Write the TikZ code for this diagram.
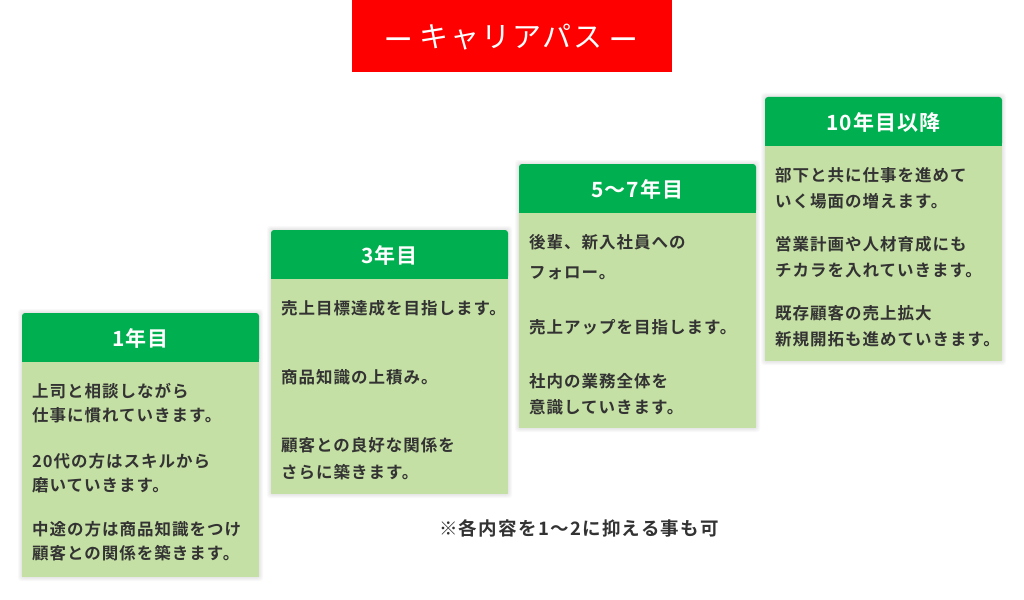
\documentclass[tikz,border=0pt]{standalone}
\usepackage{fontspec}
\setmainfont{Noto Sans CJK JP}[BoldFont={Noto Sans CJK JP Bold}]
\definecolor{hdrgreen}{RGB}{0,175,80}
\definecolor{bodygreen}{RGB}{197,224,164}
\definecolor{txtgray}{RGB}{51,51,51}
\definecolor{titlered}{RGB}{255,0,0}
\tikzset{
  hdrbox/.style={fill=hdrgreen, rounded corners=3pt},
  hdrtext/.style={text=white, font=\fontsize{21}{24}\selectfont\bfseries\addfontfeature{LetterSpace=5}, inner sep=0pt},
  bodybox/.style={fill=bodygreen, draw=none, inner sep=0pt},
  line/.style={text=txtgray, font=\fontsize{16.5}{20}\selectfont\bfseries\addfontfeature{LetterSpace=6}, inner sep=0pt, anchor=base west},
  shadowbox/.style={fill=black, fill opacity=0.025, draw=none}
}
\newcommand{\careershadow}[4]{%
  \foreach \d in {1,2,3,4}{\fill[shadowbox, rounded corners=3pt] (#1-\d,#2-\d) rectangle (#3+\d,#4+\d);}%
}
\begin{document}
\begin{tikzpicture}[x=1pt,y=-1pt]
\useasboundingbox (0,0) rectangle (1024,599);
\fill[white] (0,0) rectangle (1024,599);
% title
\fill[titlered] (352,0) rectangle (672,72);
\node[text=white, font=\fontsize{29}{30}\selectfont\addfontfeature{LetterSpace=6}, inner sep=0pt] (title) at (511,37) {{\bfseries —} キャリアパス {\bfseries —}};

% ---- box 1
\careershadow{22}{313}{259}{577}
\fill[hdrbox] (22,313) rectangle (259,362);
\fill[hdrgreen] (22,350) rectangle (259,362);
\node[hdrtext] (h1) at (140.5,338) {1年目};
\node[bodybox, anchor=north west, minimum width=237pt, minimum height=215pt] (b1) at (22,362) {};
\node[line] (b1l1) at (32,397) {上司と相談しながら};
\node[line] (b1l2) at (32,421) {仕事に慣れていきます。};
\node[line] (b1l3) at (32,467) {20代の方はスキルから};
\node[line] (b1l4) at (32,491) {磨いていきます。};
\node[line] (b1l5) at (32,535) {中途の方は商品知識をつけ};
\node[line] (b1l6) at (32,559) {顧客との関係を築きます。};

% ---- box 2
\careershadow{271}{230}{508}{494}
\fill[hdrbox] (271,230) rectangle (508,279);
\fill[hdrgreen] (271,267) rectangle (508,279);
\node[hdrtext] (h2) at (389.5,255) {3年目};
\node[bodybox, anchor=north west, minimum width=237pt, minimum height=215pt] (b2) at (271,279) {};
\node[line] (b2l1) at (281,314) {売上目標達成を目指します。};
\node[line] (b2l2) at (281,383) {商品知識の上積み。};
\node[line] (b2l3) at (281,451) {顧客との良好な関係を};
\node[line] (b2l4) at (281,478) {さらに築きます。};

% ---- box 3
\careershadow{519}{164}{756}{428}
\fill[hdrbox] (519,164) rectangle (756,213);
\fill[hdrgreen] (519,201) rectangle (756,213);
\node[hdrtext] (h3) at (637.5,189) {5〜7年目};
\node[bodybox, anchor=north west, minimum width=237pt, minimum height=215pt] (b3) at (519,213) {};
\node[line] (b3l1) at (529,248) {後輩、新入社員への};
\node[line] (b3l2) at (529,278) {フォロー。};
\node[line] (b3l3) at (529,333) {売上アップを目指します。};
\node[line] (b3l4) at (529,387) {社内の業務全体を};
\node[line] (b3l5) at (529,413) {意識していきます。};

% ---- box 4
\careershadow{765}{97}{1002}{361}
\fill[hdrbox] (765,97) rectangle (1002,146);
\fill[hdrgreen] (765,134) rectangle (1002,146);
\node[hdrtext] (h4) at (883.5,122) {10年目以降};
\node[bodybox, anchor=north west, minimum width=237pt, minimum height=215pt] (b4) at (765,146) {};
\node[line] (b4l1) at (775,181) {部下と共に仕事を進めて};
\node[line] (b4l2) at (775,207) {いく場面の増えます。};
\node[line] (b4l3) at (775,250) {営業計画や人材育成にも};
\node[line] (b4l4) at (775,276) {チカラを入れていきます。};
\node[line] (b4l5) at (775,319) {既存顧客の売上拡大};
\node[line] (b4l6) at (775,345) {新規開拓も進めていきます。};

% footnote
\node[text=txtgray, font=\fontsize{18.5}{20}\selectfont\bfseries\addfontfeature{LetterSpace=7}, inner sep=0pt] (note) at (579,528) {※各内容を1〜2に抑える事も可};
\end{tikzpicture}
\end{document}
